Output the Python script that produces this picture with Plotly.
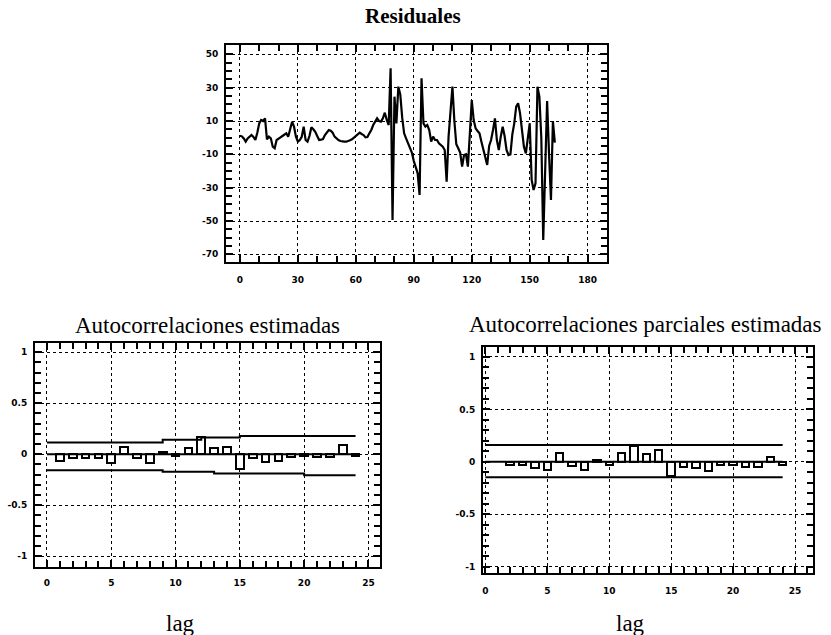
import plotly.graph_objects as go

# ---------------- data ----------------
residual_values = [
    1.2, 0.8, -0.5, -2.4, -0.5, 0.3, 1.6, 0.5, -1.4, 3.0,
    8.5, 10.6, 10.0, 11.6, -1.0, 0.6, -0.4, -5.4, -6.4, -1.4,
    -0.4, 0.2, 1.0, 1.6, 2.6, 0.5, 4.6, 9.6, 6.6, 0.6,
    -2.4, -1.4, 0.5, 6.6, -1.4, -2.4, 1.0, 6.2, 5.0, 3.5,
    1.0, -1.4, -1.2, -0.8, 1.6, 3.5, 4.6, 4.2, 3.0, 0.6,
    -0.6, -1.4, -2.0, -2.4, -2.4, -2.4, -2.2, -1.6, -1.0, 0.0,
    1.2, 2.2, 3.0, 2.2, 1.6, 0.2, 0.4, 2.6, 4.6, 7.6,
    9.6, 11.6, 10.0, 9.6, 11.6, 15.0, 10.6, 7.6, 41.6, -49.4,
    24.6, 8.6, 30.6, 26.0, 12.0, 2.6, -0.4, -3.4, -6.4, -9.0,
    -14.0, -17.4, -21.4, -34.4, 35.6, 8.6, 6.6, 7.6, 4.6, -2.4,
    0.6, -1.4, -1.4, -3.4, -4.4, -5.4, -7.4, -26.4, 0.6, 16.6,
    30.6, 10.0, -4.0, -6.4, -9.0, -17.4, -10.4, -10.0, -17.4, 2.0,
    22.6, 10.6, 5.6, 4.0, 2.6, -2.4, -7.4, -11.4, -16.4, -5.0,
    -1.4, 4.6, 11.6, -1.4, -7.4, 0.6, 6.6, 1.0, -7.4, -10.4,
    -10.0, 2.0, 8.6, 18.6, 20.6, 14.6, 4.6, -5.4, -9.4, -1.4,
    8.6, -25.4, -31.4, -27.4, 30.6, 24.6, 0.0, -61.4, -25.4, 22.0,
    -10.0, -37.4, 10.0, -3.0,
]
periods = list(range(len(residual_values)))

acf_lags = list(range(1, 25))
acf_values = [-0.07, -0.04, -0.04, -0.04, -0.09, 0.07, -0.04, -0.09, 0.02, -0.02,
              0.06, 0.165, 0.06, 0.07, -0.14, -0.04, -0.08, -0.07, -0.03, -0.02,
              -0.03, -0.03, 0.09, -0.02]
acf_band_lags = list(range(0, 25))
acf_upper = [0.116] * 9 + [0.142] * 3 + [0.165] * 3 + [0.18] * 10
acf_lower = [-0.156] * 9 + [-0.172] * 4 + [-0.189] * 7 + [-0.205] * 5

pacf_lags = list(range(2, 25))
pacf_values = [-0.03, -0.03, -0.06, -0.08, 0.08, -0.04, -0.08, 0.02, -0.03,
               0.085, 0.15, 0.07, 0.11, -0.135, -0.05, -0.06, -0.09, -0.03,
               -0.03, -0.05, -0.05, 0.045, -0.03]
pacf_band_lags = [0, 24]
pacf_upper = [0.16, 0.16]
pacf_lower = [-0.147, -0.147]

# tick labels: keep ASCII hyphen-minus as in the original
res_ylabels = ["-70", "-50", "-30", "-10"]
corr_ylabels = ["-1", "-0.5"]

# ---------------- figure ----------------
fig = go.Figure()

fig.add_trace(go.Scatter(x=periods, y=residual_values, mode="lines",
                         line=dict(color="black", width=2.2),
                         xaxis="x", yaxis="y", showlegend=False))

# ACF
fig.add_trace(go.Scatter(x=acf_band_lags, y=acf_upper, mode="lines", line=dict(color="black", width=2, shape="hv"),
                         xaxis="x2", yaxis="y2", showlegend=False))
fig.add_trace(go.Scatter(x=acf_band_lags, y=acf_lower, mode="lines", line=dict(color="black", width=2, shape="hv"),
                         xaxis="x2", yaxis="y2", showlegend=False))
fig.add_trace(go.Scatter(x=[0, max(acf_lags)], y=[0, 0], mode="lines", line=dict(color="black", width=2),
                         xaxis="x2", yaxis="y2", showlegend=False))
fig.add_trace(go.Bar(x=acf_lags, y=acf_values, width=0.6,
                     marker=dict(color="white", line=dict(color="black", width=2)),
                     xaxis="x2", yaxis="y2", showlegend=False))

# PACF
fig.add_trace(go.Scatter(x=pacf_band_lags, y=pacf_upper, mode="lines", line=dict(color="black", width=2),
                         xaxis="x3", yaxis="y3", showlegend=False))
fig.add_trace(go.Scatter(x=pacf_band_lags, y=pacf_lower, mode="lines", line=dict(color="black", width=2),
                         xaxis="x3", yaxis="y3", showlegend=False))
fig.add_trace(go.Scatter(x=[0, max(pacf_lags)], y=[0, 0], mode="lines", line=dict(color="black", width=2),
                         xaxis="x3", yaxis="y3", showlegend=False))
fig.add_trace(go.Bar(x=pacf_lags, y=pacf_values, width=0.6,
                     marker=dict(color="white", line=dict(color="black", width=2)),
                     xaxis="x3", yaxis="y3", showlegend=False))

tickfont = dict(family="DejaVu Sans", size=9, color="black", weight="bold")
axis_common = dict(showline=True, linecolor="black", linewidth=2, mirror="allticks",
                   ticks="inside", ticklen=7, tickwidth=2, tickcolor="black",
                   showgrid=True, gridcolor="black", gridwidth=1, griddash="dot",
                   zeroline=False, tickfont=tickfont, tickmode="linear")
minor_common = dict(ticks="inside", ticklen=6, tickwidth=2,
                    tickcolor="black", showgrid=False)

def alias(labels):
    return {lab.replace("-", "\u2212"): lab for lab in labels}

W, H = 831, 635
def dom_x(a, b):
    return [a / W, b / W]
def dom_y(top, bottom):
    return [1 - bottom / H, 1 - top / H]

fig.update_layout(
    width=W, height=H, margin=dict(l=0, r=0, t=0, b=0),
    paper_bgcolor="white", plot_bgcolor="white", bargap=0,
    xaxis=dict(domain=dom_x(226, 607), anchor="y", range=[-7.2, 190],
               tick0=0, dtick=30,
               minor=dict(dtick=10, tick0=0, **minor_common), ticklabelstandoff=8, **axis_common),
    yaxis=dict(domain=dom_y(45, 262), anchor="x", range=[-74.6, 55.6],
               tick0=10, dtick=20, labelalias=alias(res_ylabels),
               minor=dict(dtick=5, tick0=0, **minor_common), ticklabelstandoff=4, **axis_common),
    xaxis2=dict(domain=dom_x(35, 380), anchor="y2", range=[-0.93, 25.9],
                tick0=0, dtick=5,
                minor=dict(dtick=1, tick0=0, **minor_common), ticklabelstandoff=6, **axis_common),
    yaxis2=dict(domain=dom_y(343, 567), anchor="x2", range=[-1.105, 1.091],
                tick0=0, dtick=0.5, labelalias=alias(corr_ylabels),
                minor=dict(dtick=0.1, tick0=0, **minor_common), ticklabelstandoff=4, **axis_common),
    xaxis3=dict(domain=dom_x(483, 813), anchor="y3", range=[-0.19, 26.45],
                tick0=0, dtick=5,
                minor=dict(dtick=1, tick0=0, **minor_common), ticklabelstandoff=8, **axis_common),
    yaxis3=dict(domain=dom_y(347, 573), anchor="x3", range=[-1.06, 1.095],
                tick0=0, dtick=0.5, labelalias=alias(corr_ylabels),
                minor=dict(dtick=0.1, tick0=0, **minor_common), ticklabelstandoff=4, **axis_common),
)

title_font = dict(family="Liberation Serif", size=23, color="black")
annotations = [
    dict(text="Residuales", x=413 / W, y=1 - 16 / H, font=dict(family="Liberation Serif", size=21, color="black", weight="bold")),
    dict(text="Autocorrelaciones estimadas", x=207 / W, y=1 - 325 / H, font=title_font),
    dict(text="Autocorrelaciones parciales estimadas", x=645 / W, y=1 - 324 / H, font=title_font),
    dict(text="lag", x=180 / W, y=1 - 623 / H, font=title_font),
    dict(text="lag", x=630 / W, y=1 - 623 / H, font=title_font),
]
for a in annotations:
    a.update(xref="paper", yref="paper", showarrow=False, xanchor="center", yanchor="middle")
fig.update_layout(annotations=annotations)

fig.write_html("out.html")
